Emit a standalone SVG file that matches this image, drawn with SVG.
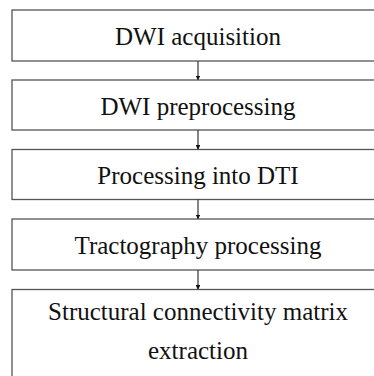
<svg xmlns="http://www.w3.org/2000/svg" width="374" height="376" viewBox="0 0 374 376">
<style>
.box{fill:#fff;stroke:#555;stroke-width:1.3}
.t{font-family:"Liberation Serif","Times New Roman",serif;font-size:25px;fill:#111;text-anchor:middle}
.c{stroke:#333;stroke-width:1.2;fill:none}
</style>
<defs><marker id="ah" viewBox="0 0 6 6" refX="5" refY="3" markerWidth="4" markerHeight="4" orient="auto"><path d="M0,0L6,3L0,6z" fill="#111"/></marker></defs>
<rect width="374" height="376" fill="#fff"/>
<g id="n1"><rect class="box" x="12" y="10" width="380" height="51"/><text class="t" x="198" y="45">DWI acquisition</text></g>
<g id="n2"><rect class="box" x="12" y="80" width="380" height="50"/><text class="t" x="198" y="114.5">DWI preprocessing</text></g>
<g id="n3"><rect class="box" x="12" y="149.5" width="380" height="50"/><text class="t" x="198" y="183.5">Processing into DTI</text></g>
<g id="n4"><rect class="box" x="12" y="219" width="380" height="51"/><text class="t" x="198" y="254">Tractography processing</text></g>
<g id="n5"><rect class="box" x="12" y="289.5" width="380" height="100"/><text class="t" x="198" y="320">Structural connectivity matrix</text><text class="t" x="198" y="359">extraction</text></g>
<g id="connectors">
<line class="c" x1="198" y1="61" x2="198" y2="79.5" marker-end="url(#ah)"/>
<line class="c" x1="198" y1="130" x2="198" y2="149" marker-end="url(#ah)"/>
<line class="c" x1="198" y1="199.5" x2="198" y2="218.5" marker-end="url(#ah)"/>
<line class="c" x1="198" y1="270" x2="198" y2="289" marker-end="url(#ah)"/>
</g>
</svg>
